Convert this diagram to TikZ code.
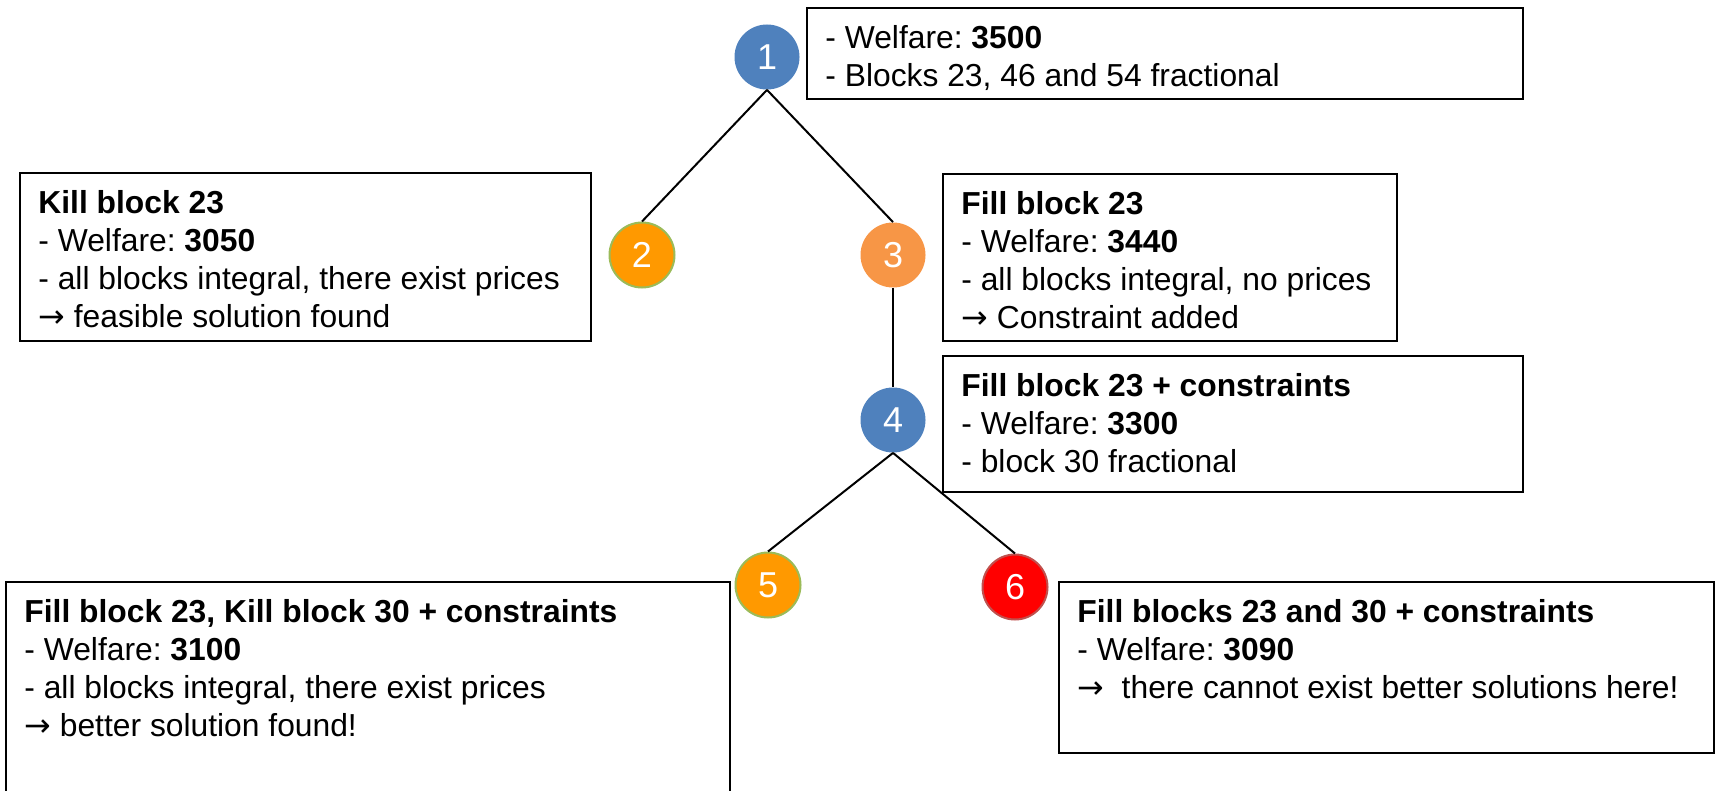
\documentclass[tikz,border=0pt]{standalone}
\usepackage{fontspec}
\setmainfont{Liberation Sans}
\newfontfamily\arrowfont{DejaVu Sans}
\frenchspacing
\definecolor{stageblue}{RGB}{79,129,189}
\definecolor{stageorange}{RGB}{255,153,0}
\definecolor{stagepeach}{RGB}{247,150,70}
\definecolor{stagered}{RGB}{255,0,0}
\definecolor{rimgreen}{RGB}{155,187,89}
\definecolor{rimred}{RGB}{192,80,77}
\newcommand{\thenarrow}{{\arrowfont →}}
\tikzset{
  stage/.style={circle, minimum size=32.5pt, inner sep=0pt, text=white, font=\fontsize{18}{18}\selectfont},
  bluestage/.style={stage, fill=stageblue},
  peachstage/.style={stage, fill=stagepeach},
  foundstage/.style={stage, fill=stageorange, draw=rimgreen, line width=1pt},
  cutstage/.style={stage, fill=stagered, draw=rimred, line width=1pt},
  branch/.style={line width=1pt},
  infobox/.style={draw, line width=1.3pt, anchor=north west, inner sep=0pt, outer sep=0pt},
  infotext/.style={anchor=north west, align=left, inner sep=0pt, font=\fontsize{15.9}{19}\selectfont},
}
\begin{document}
\begin{tikzpicture}[x=0.5pt,y=0.5pt,yscale=-1,xscale=1]
		\useasboundingbox (0,0) rectangle (1717,791);
		
		% Boxes
		\node [infobox, minimum width=358pt, minimum height=45.5pt] (box1) at (807,8) {};
		\node [infobox, minimum width=285.5pt, minimum height=84pt] (box2) at (20,173) {};
		\node [infobox, minimum width=227pt, minimum height=83.5pt] (box3) at (943,174) {};
		\node [infobox, minimum width=290pt, minimum height=68pt] (box4) at (943,356) {};
		\node [infobox, minimum width=362pt, minimum height=109pt] (box5) at (6,582) {};
		\node [infobox, minimum width=327.5pt, minimum height=85.5pt] (box6) at (1059,582) {};
		
		% Text Node
		\node [infotext] (txt1) at (825,21.4) {\strut- Welfare: \textbf{3500}\\- Blocks 23, 46 and 54 fractional};
		% Text Node
		\node [infotext] (txt2) at (38,186.4) {\strut\textbf{Kill block 23}\\- Welfare: \textbf{3050}\\- all blocks integral, there exist prices\\\thenarrow{} feasible solution found};
		% Text Node
		\node [infotext] (txt3) at (961,187.4) {\strut\textbf{Fill block 23}\\- Welfare: \textbf{3440}\\- all blocks integral, no prices\\\thenarrow{} Constraint added};
		% Text Node
		\node [infotext] (txt4) at (961,369.4) {\strut\textbf{Fill block 23 + constraints}\\- Welfare: \textbf{3300}\\- block 30 fractional};
		% Text Node
		\node [infotext] (txt5) at (24,595.4) {\strut\textbf{Fill block 23, Kill block 30 + constraints}\\- Welfare: \textbf{3100}\\- all blocks integral, there exist prices\\\thenarrow{} better solution found!};
		% Text Node
		\node [infotext] (txt6) at (1077,595.4) {\strut\textbf{Fill blocks 23 and 30 + constraints}\\- Welfare: \textbf{3090}\\\thenarrow\ \ there cannot exist better solutions here!};
		
		% Tree nodes
		\node [bluestage] (n1) at (767,57) {1};
		\node [foundstage] (n2) at (642,255) {2};
		\node [peachstage] (n3) at (893,255) {3};
		\node [bluestage] (n4) at (893,420) {4};
		\node [foundstage] (n5) at (768,585) {5};
		\node [cutstage] (n6) at (1015,587) {6};
		
		% Branches
		\draw [branch] (n1.south) -- (n2.north);
		\draw [branch] (n1.south) -- (n3.north);
		\draw [branch] (n3.south) -- (n4.north);
		\draw [branch] (n4.south) -- (n5.north);
		\draw [branch] (n4.south) -- (n6.north);
		
\end{tikzpicture}
\end{document}
